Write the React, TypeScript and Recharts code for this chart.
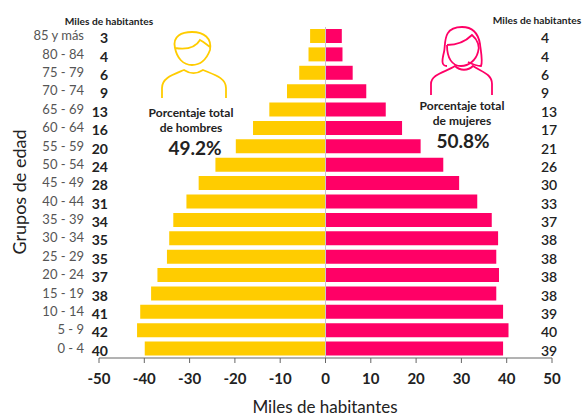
import React from "react";
import { BarChart, Bar, XAxis, YAxis, ReferenceLine } from "recharts";

const ageGroups = ["85 y más", "80 - 84", "75 - 79", "70 - 74", "65 - 69", "60 - 64", "55 - 59", "50 - 54", "45 - 49", "40 - 44", "35 - 39", "30 - 34", "25 - 29", "20 - 24", "15 - 19", "10 - 14", "5 - 9", "0 - 4"];
const menValues = [-3.4, -3.75, -5.8, -8.5, -12.4, -16, -19.8, -24.3, -28, -30.7, -33.6, -34.5, -35, -37.1, -38.5, -40.9, -41.6, -39.9];
const womenValues = [3.6, 3.75, 6, 9, 13.3, 16.9, 21, 26, 29.5, 33.5, 36.7, 38.1, 37.7, 38.3, 37.7, 39.2, 40.4, 39.2];
const menLabels = ["3", "4", "6", "9", "13", "16", "20", "24", "28", "31", "34", "35", "35", "37", "38", "41", "42", "40"];
const womenLabels = ["4", "4", "6", "9", "13", "17", "21", "26", "30", "33", "37", "38", "38", "38", "38", "39", "40", "39"];
const xTicks = [-50, -40, -30, -20, -10, 0, 10, 20, 30, 40, 50];

const data = ageGroups.map((age, i) => ({ age, men: menValues[i], women: womenValues[i] }));

const FONT = "Lato, 'Open Sans', sans-serif";
const YELLOW = "#ffcc00";
const PINK = "#ff0066";

const LeftTick = ({ y, index }: any) => (
  <g fontFamily={FONT}>
    <text x={84} y={y + 4} textAnchor="end" fontSize={13} fill="#555">{ageGroups[index]}</text>
    <text x={108} y={y + 7} textAnchor="end" fontSize={14} fontWeight={700} fill="#222">{menLabels[index]}</text>
  </g>
);

const RightTick = ({ y, index }: any) => (
  <text x={541} y={y + 7} textAnchor="start" fontSize={14} fontWeight={600} fill="#222" fontFamily={FONT}>
    {womenLabels[index]}
  </text>
);

const BottomTick = ({ x, y, payload }: any) => (
  <text x={x} y={y + 19} textAnchor="middle" fontSize={15} fontWeight={700} fill="#222" fontFamily={FONT}>
    {payload.value}
  </text>
);

const ManIcon = () => (
  <g fill="none" stroke={YELLOW} strokeWidth={1.8}>
    <path d="M175 48 C172 36 182 32 192 32 C204 32 212 38 210 50 C207 58 201 65 192 65 C183 65 177 58 175 48 C188 50 196 47 200 40 C204 42 207 45 210 47" />
    <path d="M162 98 L162 88 C162 78 172 75 184 70 C190 74 197 74 203 70 C215 75 226 78 226 88 L226 98" />
  </g>
);

const WomanIcon = () => (
  <g fill="none" stroke={PINK} strokeWidth={1.8}>
    <path d="M447 66 C441 66 442 60 444 52 C446 44 442 27 462 27 C472 27 478 32 480 44 C481 52 483 62 481 66 C476 66 472 64 468 62" />
    <path d="M447 45 C458 45 466 41 472 35 C478 40 480 47 478 52 C476 60 469 66 461 66 C452 66 447 58 447 45" />
    <path d="M431 95 L431 84 C431 74 446 72 455 66 C460 71 468 71 473 66 C482 72 492 74 492 84 L492 95" />
  </g>
);

export default function App() {
  return (
    <div style={{ position: "absolute", left: 0, top: 0, width: 587, height: 417, background: "#fff" }}>
      <BarChart
        width={587}
        height={417}
        data={data}
        layout="vertical"
        stackOffset="sign"
        barSize={14}
        margin={{ top: 27, right: 0, bottom: 0, left: 0 }}
      >
        <XAxis
          type="number"
          domain={[-50, 50]}
          ticks={xTicks}
          interval={0}
          stroke="#666"
          tickSize={5}
          tick={<BottomTick />}
          height={59}
        />
        <YAxis yAxisId="left" type="category" dataKey="age" width={99} axisLine={false} tickLine={false} interval={0} tick={<LeftTick />} />
        <YAxis yAxisId="right" orientation="right" type="category" dataKey="age" width={35} axisLine={false} tickLine={false} interval={0} tick={<RightTick />} />
        <Bar yAxisId="left" dataKey="men" stackId="a" fill={YELLOW} isAnimationActive={false} />
        <Bar yAxisId="left" dataKey="women" stackId="a" fill={PINK} isAnimationActive={false} />
        <ReferenceLine yAxisId="left" x={0} stroke="#c8c8c8" strokeWidth={1} />
      </BarChart>
      <svg width={587} height={417} style={{ position: "absolute", left: 0, top: 0 }}>
        <ManIcon />
        <WomanIcon />
        <g fontFamily={FONT} fill="#222">
          <text x={109} y={25} textAnchor="middle" fontSize={10.2} fontWeight={700}>Miles de habitantes</text>
          <text x={537} y={24} textAnchor="middle" fontSize={10.2} fontWeight={700}>Miles de habitantes</text>
          <text x={191} y={117} textAnchor="middle" fontSize={12} fontWeight={700}>Porcentaje total</text>
          <text x={191} y={132} textAnchor="middle" fontSize={12} fontWeight={700}>de hombres</text>
          <text x={195} y={155} textAnchor="middle" fontSize={19} fontWeight={700}>49.2%</text>
          <text x={462} y={110} textAnchor="middle" fontSize={12} fontWeight={700}>Porcentaje total</text>
          <text x={462} y={125} textAnchor="middle" fontSize={12} fontWeight={700}>de mujeres</text>
          <text x={463} y={148} textAnchor="middle" fontSize={19} fontWeight={700}>50.8%</text>
          <text x={325} y={413} textAnchor="middle" fontSize={17}>Miles de habitantes</text>
          <text transform="translate(26 192) rotate(-90)" textAnchor="middle" fontSize={18}>Grupos de edad</text>
        </g>
      </svg>
    </div>
  );
}
